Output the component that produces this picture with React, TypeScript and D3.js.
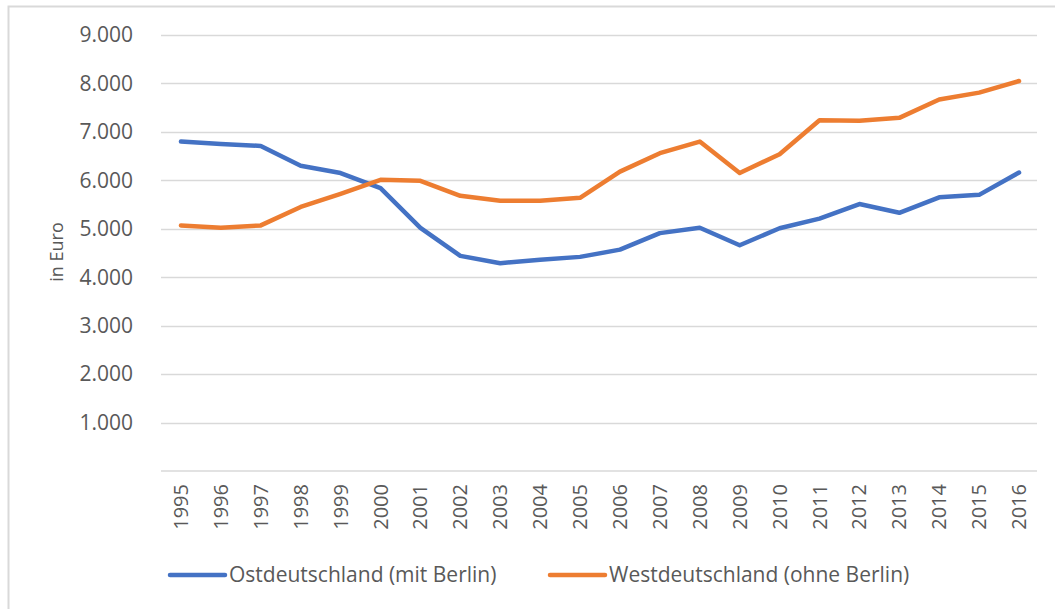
import React, { useRef, useEffect } from "react";
import * as d3 from "d3";

const years = [
  "1995", "1996", "1997", "1998", "1999", "2000", "2001", "2002", "2003", "2004", "2005",
  "2006", "2007", "2008", "2009", "2010", "2011", "2012", "2013", "2014", "2015", "2016",
];
const ost = [
  6800, 6750, 6710, 6300, 6150, 5840, 5020, 4440, 4290, 4360, 4420,
  4570, 4910, 5020, 4660, 5010, 5210, 5510, 5330, 5650, 5700, 6160,
];
const west = [
  5070, 5020, 5070, 5450, 5720, 6010, 5990, 5680, 5580, 5580, 5640,
  6180, 6560, 6800, 6150, 6540, 7240, 7230, 7290, 7670, 7810, 8050,
];
const yTicks = [1000, 2000, 3000, 4000, 5000, 6000, 7000, 8000, 9000];
const seriesNames = ["Ostdeutschland (mit Berlin)", "Westdeutschland (ohne Berlin)"];
const colors = ["#4472C4", "#ED7D31"];

const W = 1055;
const H = 609;
const FONT = "'Open Sans', sans-serif";

const App = () => {
  const svgRef = useRef<SVGSVGElement>(null);

  useEffect(() => {
    const svg = d3.select(svgRef.current).attr("width", W).attr("height", H);
    svg.selectAll("*").remove();

    // outer frame (only top and left edges visible)
    svg.append("path")
      .attr("d", `M8.5,${H} L8.5,6.5 L${W},6.5`)
      .attr("fill", "none")
      .attr("stroke", "#d9d9d9")
      .attr("stroke-width", 2);

    const left = 161, right = 1039, top = 35, bottom = 471;

    const x = d3.scaleBand().domain(years).range([left, right]);
    const y = d3.scaleLinear().domain([0, 9000]).range([bottom, top]);

    const fmt = (v: number) => d3.format(",")(v).replace(/,/g, ".");

    // gridlines
    svg.append("g")
      .selectAll("line")
      .data(yTicks)
      .join("line")
      .attr("x1", left)
      .attr("x2", right - 2)
      .attr("y1", (d) => Math.round(y(d)) + 0.5)
      .attr("y2", (d) => Math.round(y(d)) + 0.5)
      .attr("stroke", "#d9d9d9")
      .attr("stroke-width", 1.5);

    // baseline
    svg.append("line")
      .attr("x1", left).attr("x2", right - 2)
      .attr("y1", y(0)).attr("y2", y(0))
      .attr("stroke", "#d9d9d9").attr("stroke-width", 1.5);

    // y tick labels
    svg.append("g")
      .selectAll("text")
      .data(yTicks)
      .join("text")
      .attr("x", 133)
      .attr("y", (d) => y(d))
      .attr("dy", "0.35em")
      .attr("text-anchor", "end")
      .attr("font-family", FONT)
      .attr("font-size", 21)
      .attr("fill", "#595959")
      .text((d) => fmt(d));

    // y axis title
    svg.append("text")
      .attr("transform", `translate(63,252) rotate(-90)`)
      .attr("text-anchor", "middle")
      .attr("font-family", FONT)
      .attr("font-size", 18)
      .attr("fill", "#595959")
      .text("in Euro");

    // x tick labels
    svg.append("g")
      .selectAll("text")
      .data(years)
      .join("text")
      .attr("transform", (d) => `translate(${x(d)! + x.bandwidth() / 2},484) rotate(-90)`)
      .attr("dy", "0.35em")
      .attr("text-anchor", "end")
      .attr("font-family", FONT)
      .attr("font-size", 20)
      .attr("fill", "#595959")
      .text((d) => d);

    // lines
    const line = d3.line<number>()
      .x((_, i) => x(years[i])! + x.bandwidth() / 2)
      .y((d) => y(d));

    [ost, west].forEach((s, i) => {
      svg.append("path")
        .datum(s)
        .attr("d", line)
        .attr("fill", "none")
        .attr("stroke", colors[i])
        .attr("stroke-width", 4.5)
        .attr("stroke-linejoin", "round")
        .attr("stroke-linecap", "round");
    });

    // legend
    const legendX = [170, 550];
    const lg = svg.append("g");
    seriesNames.forEach((name, i) => {
      lg.append("line")
        .attr("x1", legendX[i]).attr("x2", legendX[i] + 55)
        .attr("y1", 575).attr("y2", 575)
        .attr("stroke", colors[i])
        .attr("stroke-width", 4.5)
        .attr("stroke-linecap", "round");
      lg.append("text")
        .attr("x", legendX[i] + 59)
        .attr("y", 575)
        .attr("dy", "0.35em")
        .attr("font-family", FONT)
        .attr("font-size", 21)
        .attr("fill", "#595959")
        .text(name);
    });
  }, []);

  return <svg ref={svgRef} style={{ position: "absolute", left: 0, top: 0 }}></svg>;
};

export default App;
